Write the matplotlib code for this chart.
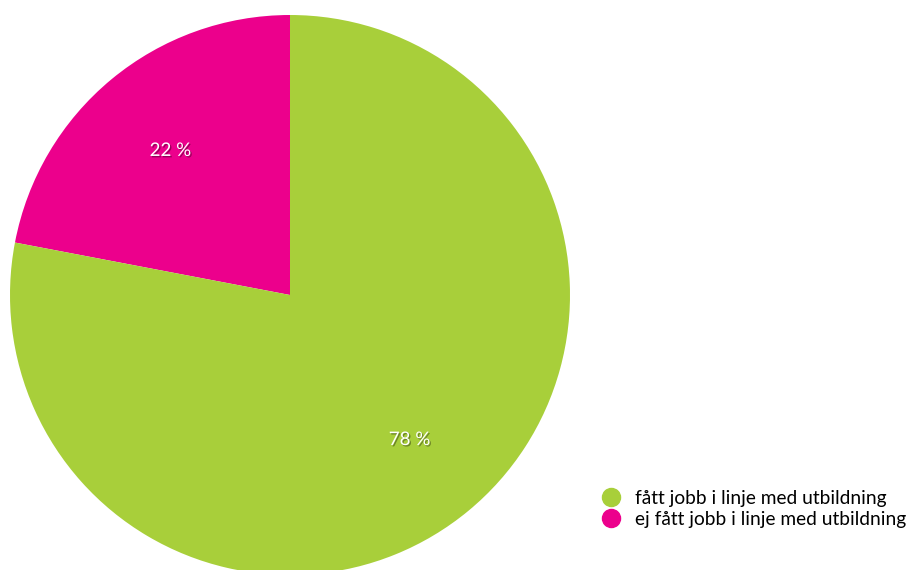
import matplotlib.pyplot as plt
import matplotlib.patheffects as pe
from matplotlib.lines import Line2D

labels = ['fått jobb i linje med utbildning', 'ej fått jobb i linje med utbildning']
values = [78, 22]
colors = ['#a8cf3a', '#ec008c']

plt.rcParams['font.family'] = ['Lato', 'DejaVu Sans']

fig = plt.figure(figsize=(9.07, 5.7), dpi=100)
ax = fig.add_axes([10 / 907, -5 / 570, 560 / 907, 560 / 570])

# pink slice starts at 12 o'clock and runs counterclockwise
wedges, texts, autotexts = ax.pie(
    values[::-1], colors=colors[::-1], startangle=90, counterclock=True,
    autopct=lambda p: f'{p:.0f} %', pctdistance=0.67, radius=1,
    wedgeprops=dict(linewidth=0))
for t in autotexts:
    t.set_color('white')
    t.set_fontsize(13.5)
    t.set_path_effects([pe.withSimplePatchShadow(offset=(1, -1), shadow_rgbFace='black', alpha=0.35)])
ax.set_xlim(-1, 1)
ax.set_ylim(-1, 1)
ax.set_aspect('equal')
ax.axis('off')

handles = [Line2D([], [], marker='o', linestyle='', markersize=13,
                  markerfacecolor=c, markeredgecolor=c) for c in colors]
fig.legend(handles, labels, loc='center left', bbox_to_anchor=(600 / 907, 1 - 509 / 570),
           frameon=False, fontsize=13.75, handletextpad=0.65, labelspacing=0.2,
           borderpad=0, borderaxespad=0, handlelength=1.2)

fig.savefig('out.png', dpi=100)
